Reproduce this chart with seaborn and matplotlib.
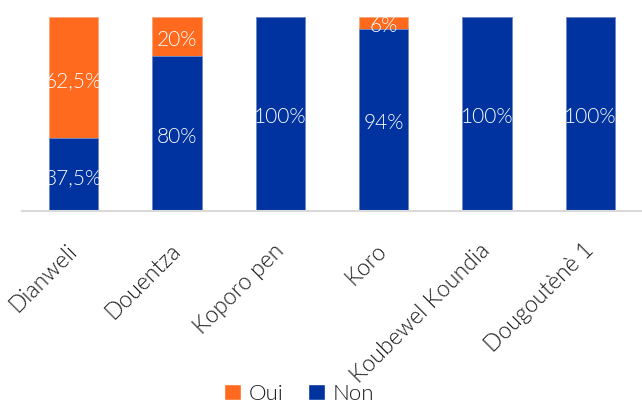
import matplotlib
matplotlib.use("Agg")
import matplotlib.pyplot as plt
from matplotlib.patches import Patch
import seaborn as sns
import pandas as pd

# Survey results per locality (percent of respondents)
localites = ["Dianweli", "Douentza", "Koporo pen", "Koro", "Koubewel Koundia", "Dougoutènè 1"]
non = [37.5, 80, 100, 94, 100, 100]
oui = [62.5, 20, 0, 6, 0, 0]

COL_OUI = "#FF6A1F"
COL_NON = "#0033A0"
TXT = "#1a1a1a"
W = 300  # light weight

sns.set_theme(style="white")
plt.rcParams["font.family"] = ["Lato", "DejaVu Sans"]

df = pd.DataFrame({"Localité": localites, "Non": non, "Oui": oui})
df["Total"] = df["Non"] + df["Oui"]

fig = plt.figure(figsize=(6.42, 4.03), dpi=100)
ax = fig.add_axes([22 / 642, 1 - 211 / 403, 620 / 642, 194 / 403])

# stacked bars: full height in orange, then the "Non" share in blue on top of it
sns.barplot(data=df, x="Localité", y="Total", color=COL_OUI, width=0.48,
            saturation=1, edgecolor="#f5a57a", linewidth=0.6, ax=ax)
sns.barplot(data=df, x="Localité", y="Non", color=COL_NON, width=0.48,
            saturation=1, edgecolor="#6f8fd0", linewidth=0.6, ax=ax)


def fmt(v):
    return f"{v:g}".replace(".", ",") + "%"


def seg_label(x, y, v):
    ax.annotate(fmt(v), (x, y), xytext=(0, -2.5), textcoords="offset points",
                ha="center", va="center", color="white", fontsize=15, fontweight=W)


for i, (n, o) in enumerate(zip(non, oui)):
    if n > 0:
        seg_label(i, n / 2, n)
    if o > 0:
        seg_label(i, n + o / 2, o)

ax.set_ylim(0, 100)
ax.set_xlim(-0.5, len(localites) - 0.5)
ax.set_xlabel("")
ax.set_ylabel("")
ax.set_yticks([])
for side in ["top", "right", "left"]:
    ax.spines[side].set_visible(False)
ax.spines["bottom"].set_color("#d9d9d9")
ax.spines["bottom"].set_linewidth(1.5)

ax.tick_params(axis="x", length=0, pad=26)
for lab in ax.get_xticklabels():
    lab.set_rotation(45)
    lab.set_ha("right")
    lab.set_va("center")
    lab.set_rotation_mode("anchor")
    lab.set_fontsize(16.5)
    lab.set_fontweight(W)
    lab.set_color(TXT)

handles = [Patch(facecolor=COL_OUI, label="Oui"), Patch(facecolor=COL_NON, label="Non")]
fig.legend(handles=handles, loc="lower center", bbox_to_anchor=(0.466, -0.052), ncol=2,
           frameon=False, handlelength=0.75, handleheight=0.75,
           handletextpad=0.35, columnspacing=1.1,
           prop={"weight": W, "size": 16}, labelcolor=TXT)

fig.savefig("out.png", dpi=100)
